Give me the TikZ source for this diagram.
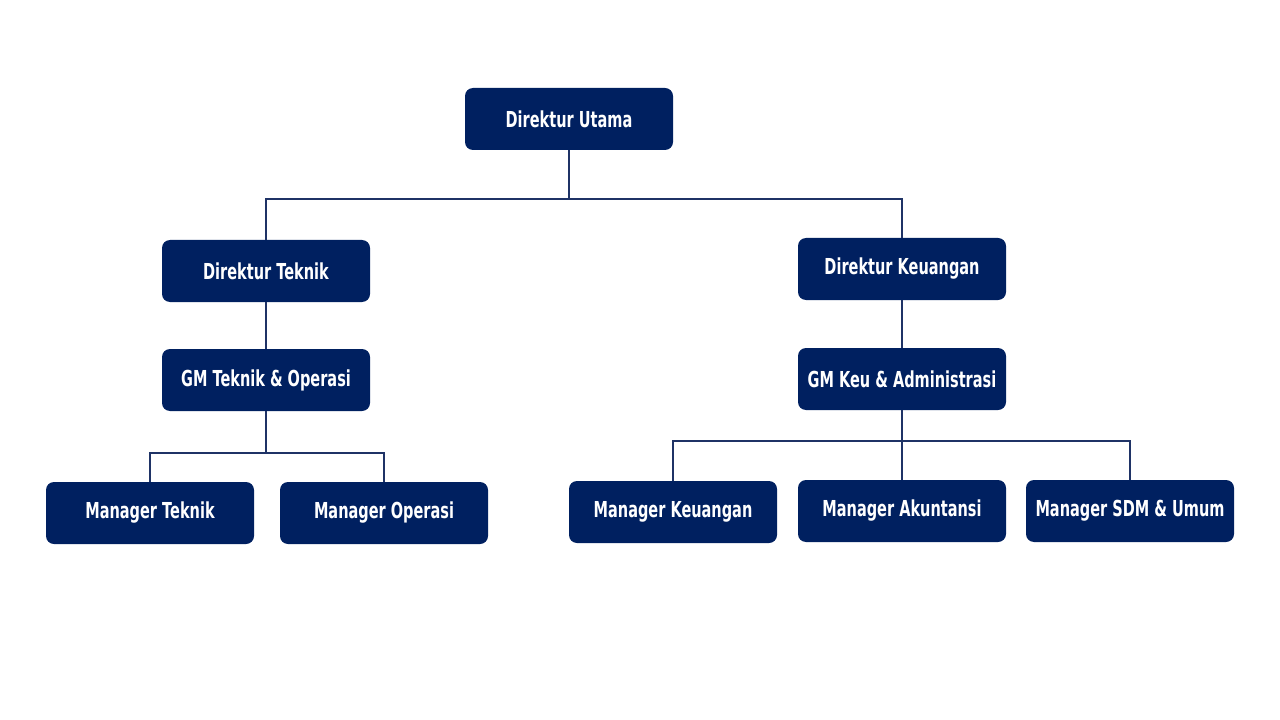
\documentclass[tikz,border=0pt]{standalone}
\usepackage{fontspec}
\newfontfamily\orgfont[FakeStretch=0.66]{DejaVu Sans}
\usepackage{xcolor}
\usepackage{tikz}
\definecolor{navy}{HTML}{002060}
\definecolor{linenavy}{HTML}{1F3366}

\begin{document}
\begin{tikzpicture}[x=0.75pt, y=-0.75pt,
    jabatan/.style={fill=navy, draw=none, rounded corners=6pt,
        minimum width=156pt, minimum height=46.5pt, inner sep=0pt,
        text=white, font=\orgfont\bfseries\fontsize{16.5}{18}\selectfont},
    link/.style={draw=linenavy, line width=1.5pt}]
        \useasboundingbox (0,0) rectangle (1280,720);

        \node[jabatan] (utama) at (569, 119) {Direktur Utama};
        \node[jabatan] (dteknik) at (266, 271) {Direktur Teknik};
        \node[jabatan] (dkeu) at (902, 269) {Direktur Keuangan};
        \node[jabatan] (gmteknik) at (266, 380) {GM Teknik \& Operasi};
        \node[jabatan] (gmkeu) at (902, 379) {GM Keu \& Administrasi};
        \node[jabatan] (mteknik) at (150, 513) {Manager Teknik};
        \node[jabatan] (moperasi) at (384, 513) {Manager Operasi};
        \node[jabatan] (mkeu) at (673, 512) {Manager Keuangan};
        \node[jabatan] (makun) at (902, 511) {Manager Akuntansi};
        \node[jabatan] (msdm) at (1130, 511) {Manager SDM \& Umum};

        \draw[link] (utama.south) -- (utama.south |- 0,199) -| (dteknik.north);
        \draw[link] (utama.south |- 0,199) -| (dkeu.north);
        \draw[link] (dteknik) -- (gmteknik);
        \draw[link] (dkeu) -- (gmkeu);

        \draw[link] (gmteknik.south) -- (gmteknik.south |- 0,453) -| (mteknik.north);
        \draw[link] (gmteknik.south |- 0,453) -| (moperasi.north);

        \draw[link] (gmkeu.south) -- (makun.north);
        \draw[link] (gmkeu.south |- 0,441) -| (mkeu.north);
        \draw[link] (gmkeu.south |- 0,441) -| (msdm.north);
    \end{tikzpicture}
\end{document}
